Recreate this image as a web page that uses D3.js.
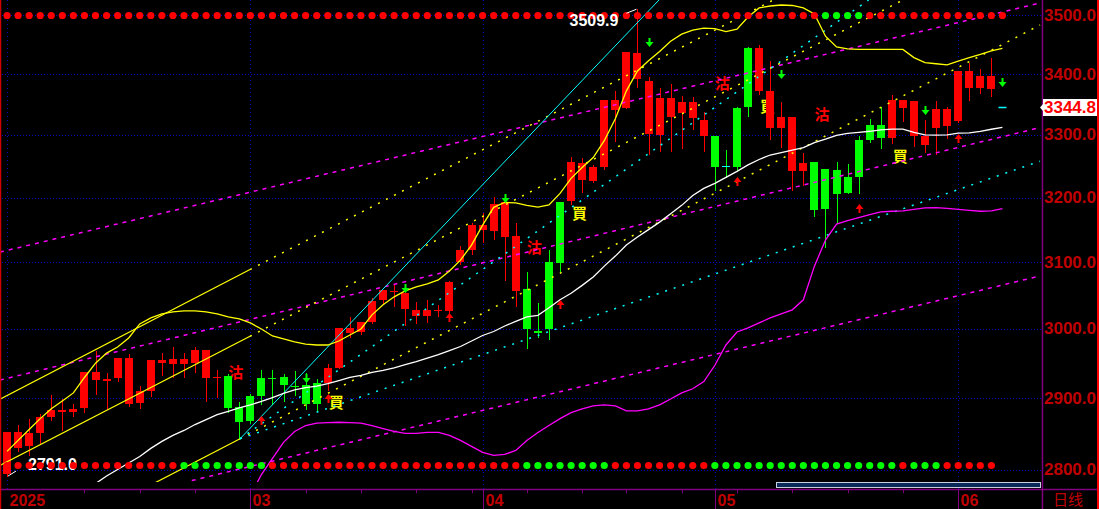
<!DOCTYPE html>
<html><head><meta charset="utf-8">
<script src="https://cdn.jsdelivr.net/npm/d3@7"></script>
<style>
body{margin:0;background:#000;overflow:hidden}
svg{display:block}
</style></head><body>
<svg id="c" width="1099" height="509"></svg>
<script>
// ---------------- DATA ----------------
const dates = [
"2025-01-30","2025-01-31",
"2025-02-03","2025-02-04","2025-02-05","2025-02-06","2025-02-07",
"2025-02-10","2025-02-11","2025-02-12","2025-02-13","2025-02-14",
"2025-02-17","2025-02-18","2025-02-19","2025-02-20","2025-02-21",
"2025-02-24","2025-02-25","2025-02-26","2025-02-27","2025-02-28",
"2025-03-03","2025-03-04","2025-03-05","2025-03-06","2025-03-07",
"2025-03-10","2025-03-11","2025-03-12","2025-03-13","2025-03-14",
"2025-03-17","2025-03-18","2025-03-19","2025-03-20","2025-03-21",
"2025-03-24","2025-03-25","2025-03-26","2025-03-27","2025-03-28",
"2025-03-31",
"2025-04-01","2025-04-02","2025-04-03","2025-04-04",
"2025-04-07","2025-04-08","2025-04-09","2025-04-10","2025-04-11",
"2025-04-14","2025-04-15","2025-04-16","2025-04-17",
"2025-04-21","2025-04-22","2025-04-23","2025-04-24","2025-04-25",
"2025-04-28","2025-04-29","2025-04-30",
"2025-05-01","2025-05-02",
"2025-05-05","2025-05-06","2025-05-07","2025-05-08","2025-05-09",
"2025-05-12","2025-05-13","2025-05-14","2025-05-15","2025-05-16",
"2025-05-19","2025-05-20","2025-05-21","2025-05-22","2025-05-23",
"2025-05-26","2025-05-27","2025-05-28","2025-05-29","2025-05-30",
"2025-06-02","2025-06-03","2025-06-04","2025-06-05"];

const opens = [
2794.4,2830.1,2832.0,2850.4,2872.6,2879.6,2879.6,2886.1,2925.5,2926.4,
2928.4,2892.1,2893.5,2910.3,2949.6,2949.0,2949.0,2950.4,2928.4,2929.4,
2930.9,2887.6,2902.9,2928.0,2928.0,2929.4,2917.0,2919.1,2922.1,2922.1,
2943.1,2994.6,2996.0,3010.9,3042.3,3055.2,3029.5,3018.5,3018.5,3026.5,
3026.0,3100.5,3118.5,3149.2,3148.2,3139.0,3057.2,3059.8,2997.5,3100.5,
3193.7,3194.1,3228.1,3225.9,3248.1,3341.0,3343.1,3392.3,3302.1,3300.0,
3329.5,3336.0,3327.8,3298.4,3298.4,3249.7,3343.1,3443.6,3372.1,3310.3,
3310.3,3241.3,3241.8,3256.0,3244.4,3242.9,3232.2,3292.1,3316.4,3316.4,
3295.7,3343.1,3298.4,3284.1,3311.5,3313.6,3321.8,3377.5,3377.5,3375.9];
const closes = [
2851.8,2851.8,2850.0,2873.6,2883.3,2883.3,2884.7,2936.8,2936.8,2927.6,
2957.8,2957.8,2910.3,2954.4,2954.4,2955.9,2955.9,2969.1,2969.1,2930.4,
2886.5,2866.6,2867.0,2902.9,2927.2,2919.1,2916.2,2892.1,2892.1,2943.1,
3001.5,3001.5,3010.9,3041.9,3058.3,3056.2,3054.2,3028.5,3028.5,3027.5,
3070.2,3118.5,3156.9,3156.9,3190.2,3192.5,3140.5,2999.6,2994.6,2999.6,
3099.0,3256.0,3254.5,3248.1,3357.4,3357.4,3436.7,3435.0,3388.5,3360.7,
3360.7,3354.1,3354.1,3324.6,3248.1,3248.7,3248.1,3345.9,3443.6,3372.1,
3329.5,3328.3,3254.5,3180.0,3181.5,3204.8,3207.9,3232.2,3292.1,3295.7,
3357.4,3357.4,3355.7,3298.4,3342.6,3342.6,3405.2,3405.2,3396.7,3396.7];
const highs = [
2851.8,2862.5,2870.4,2877.3,2904.4,2898.2,2891.2,2936.8,2968.1,2935.3,
2957.8,2963.3,2917.7,2954.4,2964.7,2974.0,2964.7,2974.0,2969.1,2940.7,
2934.9,2894.4,2905.9,2939.7,2939.7,2934.9,2938.2,2935.8,2927.6,2948.6,
3001.5,3018.2,3010.9,3045.9,3058.3,3065.7,3058.3,3039.4,3043.4,3036.0,
3072.0,3124.6,3160.4,3176.4,3201.6,3201.6,3159.5,3085.5,3038.5,3118.5,
3193.7,3264.0,3262.4,3250.8,3357.4,3372.1,3436.7,3509.9,3395.1,3376.5,
3383.1,3364.0,3361.2,3337.7,3298.4,3276.2,3345.9,3445.3,3448.3,3422.4,
3353.0,3328.3,3270.3,3256.0,3244.4,3256.0,3252.4,3298.4,3326.2,3345.9,
3365.6,3357.4,3355.7,3324.6,3355.7,3345.9,3405.2,3417.8,3408.6,3427.1];
const lows = [
2791.0,2825.4,2819.4,2836.5,2869.0,2855.2,2875.0,2879.6,2905.9,2885.1,
2925.0,2888.9,2886.5,2902.9,2932.4,2929.9,2929.9,2937.2,2895.8,2901.5,
2879.6,2842.8,2864.0,2892.1,2891.2,2895.8,2904.4,2884.2,2882.9,2911.4,
2943.1,2988.7,2992.6,3008.5,3038.5,3033.4,3006.0,3008.5,3010.9,3018.5,
3023.6,3098.0,3112.3,3131.2,3135.4,3073.1,3033.4,2971.6,2988.7,2984.9,
3087.0,3190.0,3208.4,3224.3,3245.6,3290.0,3343.1,3378.7,3269.4,3274.6,
3274.6,3278.3,3309.3,3274.6,3211.1,3232.2,3242.9,3331.2,3366.7,3293.2,
3279.8,3212.2,3219.0,3170.8,3123.5,3159.5,3207.9,3207.9,3287.8,3278.3,
3286.2,3323.0,3282.5,3273.0,3269.4,3295.7,3320.2,3357.4,3367.7,3362.8];

// band lines (one slot past the last bar)
const bandUpper = [
2825.0,2840.3,2855.6,2870.8,2884.7,2895.8,2907.3,2929.4,2950.0,2964.7,
2973.5,2986.8,3007.4,3016.4,3022.4,3025.4,3026.8,3026.8,3025.4,3022.4,
3017.9,3014.9,3008.9,3000.0,2989.7,2985.3,2980.9,2977.9,2976.5,2976.5,
2982.3,2991.2,3000.0,3020.9,3035.8,3047.7,3056.7,3062.7,3067.2,3073.1,
3086.6,3103.1,3126.2,3156.9,3184.6,3192.3,3191.5,3187.7,3185.1,3188.5,
3206.4,3230.2,3247.6,3263.5,3290.5,3326.2,3372.1,3405.2,3422.4,3437.9,
3455.2,3467.2,3474.1,3477.6,3476.7,3471.6,3475.9,3496.6,3512.1,3515.5,
3517.2,3516.4,3512.1,3501.7,3463.8,3445.7,3442.2,3441.4,3441.4,3441.4,
3441.4,3441.4,3427.6,3419.0,3417.2,3415.5,3421.6,3427.6,3432.8,3438.8,
3443.1];
const bandMid = [
null,null,null,null,null,null,null,2771.0,2780.7,2791.0,
2800.0,2809.0,2818.0,2829.2,2838.9,2847.2,2854.2,2862.5,2869.4,2876.4,
2881.2,2886.1,2890.3,2895.1,2900.7,2906.6,2911.7,2914.7,2916.9,2920.6,
2925.0,2929.4,2932.3,2936.7,2939.7,2943.4,2947.8,2952.2,2957.3,2962.5,
2968.4,2974.3,2982.3,2990.4,2996.3,3004.4,3011.2,3017.9,3020.1,3031.3,
3043.3,3053.0,3064.9,3077.6,3094.0,3109.3,3126.2,3138.5,3150.0,3161.6,
3174.6,3187.7,3203.2,3214.3,3222.2,3231.8,3241.3,3251.6,3260.3,3267.5,
3271.4,3275.4,3279.4,3287.3,3292.9,3299.2,3302.5,3304.1,3305.8,3308.2,
3309.4,3309.4,3304.1,3300.0,3299.5,3300.0,3302.8,3303.3,3305.8,3309.1,
3312.0];
const bandLower = [
null,null,null,null,null,null,null,null,null,null,
null,null,null,null,null,null,null,null,null,null,
null,null,2764.1,2793.1,2815.3,2837.5,2852.8,2861.1,2864.6,2865.3,
2865.7,2865.3,2864.6,2861.1,2856.9,2852.8,2850.0,2850.0,2851.4,2851.4,
2847.2,2840.3,2831.9,2823.6,2819.4,2820.8,2826.4,2840.3,2851.4,2861.1,
2870.8,2879.2,2884.7,2888.9,2890.3,2888.9,2881.9,2881.9,2884.7,2890.3,
2898.6,2907.3,2913.2,2923.5,2947.0,2976.5,2995.6,3001.5,3008.9,3016.4,
3022.4,3028.3,3043.3,3094.0,3133.9,3158.5,3163.9,3168.5,3173.1,3177.4,
3178.5,3179.2,3181.5,3183.9,3184.2,3183.1,3181.5,3180.0,3178.5,3179.2,
3182.6];

// straight lines: [fromIndex, fromPrice, toIndex, toPrice]
const channelSolid = [[-0.64,2898.2,21.97,3088.8],[-0.64,2805.5,21.97,2989.3],[12.94,2778.3,21.07,2842.6]];
const channelDotted = [[21.97,3088.8,71.7,3549.7],[21.97,2989.3,86.16,3577.1],[21.07,2842.6,93.4,3482.8]];
const fanSolid = [[21.07,2842.6,58.95,3525.9]];
const fanDotted = [[21.07,2842.6,93.4,3257.6],[21.07,2842.6,77.9,3525.9]];
const trendDashed = [[-0.64,2925.7,93.4,3311.8],[-0.64,3115.4,93.4,3520.7],[16.7,2784.8,93.4,3079.1]];

// signal markers
const sellIdx = [20,47,64,73], sellPrice = [2938.2,3124.6,3386.1,3335.3];
const buyIdx = [29,51,68,80],  buyPrice  = [2895.1,3176.9,3348.4,3267.5];
const downIdx = [27,36,45,58,70,83,90], downPrice = [2927.9,3059.7,3196.9,3451.7,3398.4,3339.4,3385.2];
const upIdx = [23,29,40,50,66,77,86],   upPrice   = [2869.4,2900.0,3017.9,3037.3,3226.2,3183.1,3294.4];
// state dots (r = red, g = green), one per slot incl. the extra one
const topDots    = "rrrrrrrrrrrrrrrrrrrrrrrrrrrrrrrrrrrrrrrrrrrrrrrrrrrrrrrrrrrrrrrrrrrrrrrrrrggggrrrrrrrrrrrrr";
const bottomDots = "rrrrrrrrrrrrrrrrggggggggrrrrrrrrrrrrrrrrrrrrrrrggggggggrrrrrrrrrgggggggggggggggggrgggrrrrr";

const priceTicks = [2800,2900,3000,3100,3200,3300,3400,3500];
const tickDates  = ["2025-01-30","2025-03-03","2025-04-01","2025-05-01","2025-06-02"];
const tickLabels = ["2025","03","04","05","06"];
const lastPrice = 3344.8;
const periodLabel = "日线";

// ---------------- DRAW ----------------
const svg = d3.select("#c");
const W = 1099, H = 509, PR = 1042, PB = 482, AXY = 489;
const x = d3.scaleLinear().domain([0, 90]).range([7.03, 1002.43]);
const y = d3.scaleLog().domain([2800, 3500]).range([469.5, 15]);
const RED = "#ff0000", GREEN = "#00ff00", AXT = "#c00000", PURPLE = "#800080", GRID = "#0000c8";
const numFont = "'Liberation Sans', Arial, sans-serif";
const cjk = "'Noto Sans CJK TC','Noto Sans CJK SC',sans-serif";

svg.append("rect").attr("width", W).attr("height", H).attr("fill", "#000");
svg.append("defs").append("clipPath").attr("id", "pc")
  .append("rect").attr("x", 0).attr("y", 0).attr("width", PR).attr("height", PB);

// grid
const grid = svg.append("g");
priceTicks.forEach(p => {
  const yy = Math.round(y(p)) + 0.5;
  grid.append("line").attr("x1", 2).attr("x2", PR).attr("y1", yy).attr("y2", yy)
    .attr("stroke", GRID).attr("stroke-dasharray", "1,2");
});
const tickIdx = tickDates.map(d => dates.indexOf(d));
tickIdx.forEach(i => {
  const xx = Math.round(x(i)) + 0.5;
  grid.append("line").attr("x1", xx).attr("x2", xx).attr("y1", 0).attr("y2", AXY)
    .attr("stroke", GRID).attr("stroke-dasharray", "1,3");
});

const plot = svg.append("g").attr("clip-path", "url(#pc)");

// text signals (behind bars)
sellIdx.forEach((i, k) => plot.append("text").attr("x", x(i)).attr("y", y(sellPrice[k]))
  .attr("dominant-baseline", "central").attr("fill", RED).attr("font-family", cjk)
  .attr("font-size", 15).attr("font-weight", "bold").text("沽"));
buyIdx.forEach((i, k) => plot.append("text").attr("x", x(i) + 1).attr("y", y(buyPrice[k]))
  .attr("dominant-baseline", "central").attr("fill", "#ffff00").attr("font-family", cjk)
  .attr("font-size", 15).attr("font-weight", "bold").text("買"));

// candles
const bars = plot.append("g");
opens.forEach((o, i) => {
  const c = closes[i];
  const up = c >= o;
  const doji = Math.abs(c - o) / o < 0.0004;
  const col = (i === 65) ? "#00ffff" : (up ? RED : GREEN);
  const wickCol = up ? RED : GREEN;
  const cx = Math.round(x(i));
  const L = cx - 4;
  bars.append("line").attr("x1", L + 4.5).attr("x2", L + 4.5)
    .attr("y1", Math.round(y(highs[i]))).attr("y2", Math.round(y(lows[i])) + 1)
    .attr("stroke", wickCol).attr("stroke-width", 1);
  const yt = Math.round(y(Math.max(o, c))), yb = Math.round(y(Math.min(o, c)));
  bars.append("rect").attr("x", L).attr("y", yt).attr("width", 8)
    .attr("height", Math.max(doji ? 1 : 2, yb - yt)).attr("fill", col);
});

// straight lines
const seg = (arr, color, dash, w) => arr.forEach(s => {
  plot.append("line").attr("x1", x(s[0])).attr("y1", y(s[1])).attr("x2", x(s[2])).attr("y2", y(s[3]))
    .attr("stroke", color).attr("stroke-width", w || 1).attr("stroke-dasharray", dash || null);
});
seg(trendDashed, "#ff00ff", "4,5", 1.5);
seg(channelSolid, "#ffff00", null, 1.2);
seg(channelDotted, "#ffff00", "2,7", 1.5);
seg(fanSolid, "#00ffff", null, 1);
seg(fanDotted, "#00ffff", "2,7", 1.5);

// bands
const band = (arr, color, w) => plot.append("path")
  .datum(arr.map((v, i) => [i, v]))
  .attr("d", d3.line().defined(d => d[1] != null).x(d => x(d[0])).y(d => y(d[1])))
  .attr("fill", "none").attr("stroke", color).attr("stroke-width", w);
band(bandLower, "#ff00ff", 1.3);
band(bandMid, "#ffffff", 1.3);
band(bandUpper, "#ffff00", 1.3);

// arrows
downIdx.forEach((i, k) => {
  const cx = Math.round(x(i)) + 0.5, cy = Math.round(y(downPrice[k]));
  plot.append("path").attr("d", `M${cx-1},${cy-5}h2v4h3l-4,5l-4,-5h3z`).attr("fill", GREEN);
});
upIdx.forEach((i, k) => {
  const cx = Math.round(x(i)) + 0.5, cy = Math.round(y(upPrice[k]));
  plot.append("path").attr("d", `M${cx-1},${cy+5}h2v-4h3l-4,-5l-4,5h3z`).attr("fill", RED);
});

// last price dash
plot.append("line").attr("x1", x(90) - 4).attr("x2", x(90) + 4)
  .attr("y1", Math.round(y(lastPrice)) + 0.5).attr("y2", Math.round(y(lastPrice)) + 0.5)
  .attr("stroke", "#00ffff").attr("stroke-width", 1.5);

// low label (under the dots)
const hiI = d3.maxIndex(highs), loI = d3.minIndex(lows);
svg.append("line").attr("x1", x(loI) + 1).attr("y1", y(lows[loI])).attr("x2", x(loI) + 9).attr("y2", y(lows[loI]) - 5)
  .attr("stroke", "#fff");
svg.append("text").attr("x", x(loI) + 21).attr("y", y(lows[loI]) - 6.5).attr("text-anchor", "start")
  .attr("fill", "#fff").attr("font-family", numFont).attr("font-weight", "bold").attr("font-size", 16)
  .text(lows[loI].toFixed(1));

// state dots
const dotsG = svg.append("g").attr("clip-path", "url(#pc)");
[[topDots, 3500], [bottomDots, 2806]].forEach(([s, p]) => {
  s.split("").forEach((ch, i) => {
    dotsG.append("circle").attr("cx", x(i)).attr("cy", Math.round(y(p)) + 0.5).attr("r", 3.6)
      .attr("fill", ch === "g" ? GREEN : RED);
  });
});

// high label (over the dots)
svg.append("line").attr("x1", x(hiI) - 11).attr("y1", y(highs[hiI]) + 4).attr("x2", x(hiI) - 1).attr("y2", y(highs[hiI]))
  .attr("stroke", "#fff");
svg.append("text").attr("x", x(hiI) - 19).attr("y", y(highs[hiI]) + 17).attr("text-anchor", "end")
  .attr("fill", "#fff").attr("font-family", numFont).attr("font-weight", "bold").attr("font-size", 16)
  .text(highs[hiI].toFixed(1));

// axes frame
svg.append("line").attr("x1", PR + 0.5).attr("x2", PR + 0.5).attr("y1", 0).attr("y2", H).attr("stroke", PURPLE).attr("stroke-width", 1.5);
svg.append("line").attr("x1", 0).attr("x2", W).attr("y1", AXY + 0.5).attr("y2", AXY + 0.5).attr("stroke", PURPLE).attr("stroke-width", 1.5);
svg.append("line").attr("x1", 0.5).attr("x2", 0.5).attr("y1", 0).attr("y2", H).attr("stroke", "#d00000").attr("stroke-width", 1.5);
svg.append("line").attr("x1", W - 1).attr("x2", W - 1).attr("y1", 0).attr("y2", H).attr("stroke", "#ff0000").attr("stroke-width", 2);

// right axis labels
const ax = svg.append("g");
priceTicks.forEach(p => {
  ax.append("text").attr("x", PR + 2).attr("y", y(p)).attr("dominant-baseline", "central")
    .attr("fill", AXT).attr("font-family", numFont).attr("font-weight", "bold").attr("font-size", 17)
    .text(p.toFixed(1));
});
// last price tag
const ly = Math.round(y(lastPrice));
ax.append("path").attr("d", `M${PR-2},${ly+0.5}L${PR+1},${ly-3}V${ly-8}H${W-2}V${ly+9}H${PR+1}V${ly+4}Z`).attr("fill", "#fff");
ax.append("text").attr("x", PR + 2).attr("y", ly + 0.5).attr("dominant-baseline", "central")
  .attr("fill", RED).attr("font-family", numFont).attr("font-weight", "bold").attr("font-size", 17)
  .text(lastPrice.toFixed(1));

// bottom axis
const bx = svg.append("g");
dates.forEach((d, i) => {
  const dt = new Date(d + "T00:00:00");
  if (dt.getDay() === 1 && i > 2 && !tickIdx.includes(i)) {
    const xx = Math.round(x(i)) + 0.5;
    bx.append("line").attr("x1", xx).attr("x2", xx).attr("y1", AXY).attr("y2", AXY + 4).attr("stroke", PURPLE);
  }
});
tickIdx.forEach((i, k) => {
  const xx = Math.round(x(i)) + 0.5;
  if (k > 0) bx.append("line").attr("x1", xx).attr("x2", xx).attr("y1", AXY).attr("y2", H).attr("stroke", PURPLE);
  bx.append("text").attr("x", xx + 2).attr("y", 506).attr("fill", AXT).attr("font-family", numFont)
    .attr("font-weight", "bold").attr("font-size", 16).text(tickLabels[k]);
});
bx.append("text").attr("x", 1068).attr("y", 505).attr("text-anchor", "middle").attr("fill", AXT)
  .attr("font-family", cjk).attr("font-size", 15).text(periodLabel);

// scroll bar
svg.append("rect").attr("x", 776.5).attr("y", 482.5).attr("width", 264).attr("height", 5)
  .attr("fill", "#0a2a5a").attr("stroke", "#c8d0e0").attr("stroke-width", 1);
</script>
</body></html>
